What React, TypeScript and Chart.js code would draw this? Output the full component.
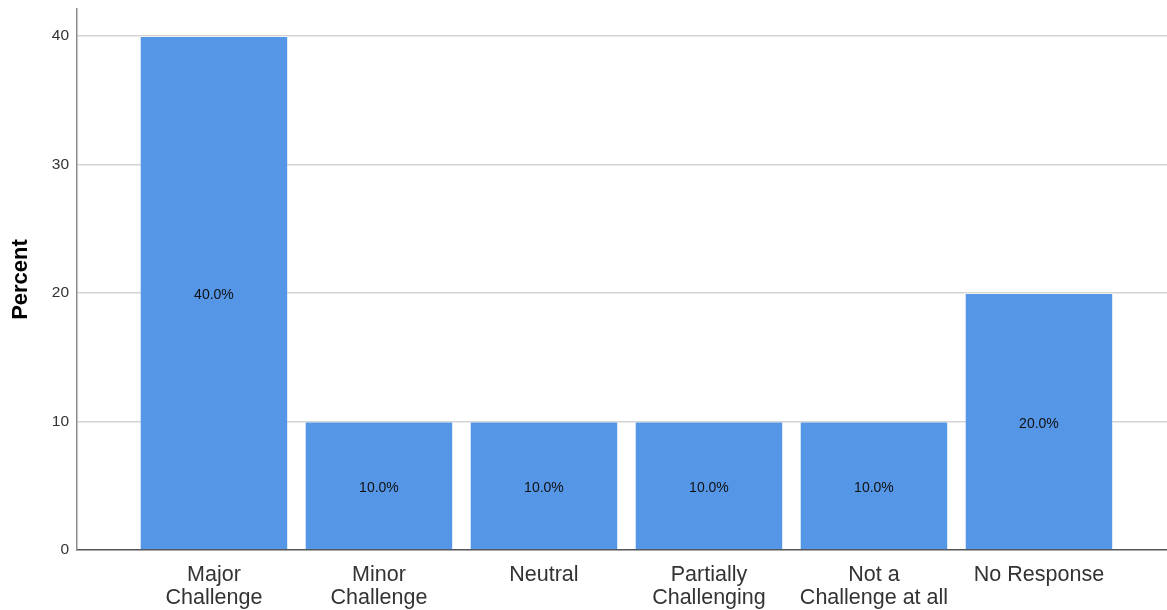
import React, { useEffect, useRef } from "react";
import { Chart, registerables } from "chart.js";

Chart.register(...registerables);

// Response categories (multi-line tick labels) and their percentages
const categories: string[][] = [
  ["Major", "Challenge"],
  ["Minor", "Challenge"],
  ["Neutral"],
  ["Partially", "Challenging"],
  ["Not a", "Challenge at all"],
  ["No Response"],
];
const percents: number[] = [40, 10, 10, 10, 10, 20];
const yTicks: number[] = [0, 10, 20, 30, 40];

const FONT = "Arial, 'Liberation Sans', sans-serif";
const BAR_COLOR = "#5596e6";

// Writes each bar's percentage in the middle of the bar
const barValueLabels = {
  id: "barValueLabels",
  afterDatasetsDraw(chart: any) {
    const { ctx } = chart;
    const meta = chart.getDatasetMeta(0);
    ctx.save();
    ctx.font = `14px ${FONT}`;
    ctx.fillStyle = "#111111";
    ctx.textAlign = "center";
    ctx.textBaseline = "middle";
    meta.data.forEach((bar: any, i: number) => {
      const { x, y, base } = bar.getProps(["x", "y", "base"], true);
      ctx.fillText(`${percents[i].toFixed(1)}%`, x, (y + base) / 2 + 3);
    });
    ctx.restore();
  },
};

export default function App() {
  const canvasRef = useRef<HTMLCanvasElement | null>(null);

  useEffect(() => {
    if (!canvasRef.current) return;
    const chart = new Chart(canvasRef.current, {
      type: "bar",
      data: {
        datasets: [
          {
            data: percents.map((v, i) => ({ x: i, y: v })),
            backgroundColor: BAR_COLOR,
            borderColor: "rgba(255,255,255,0.35)",
            borderWidth: 1,
            barPercentage: 0.9,
            categoryPercentage: 1,
          },
        ],
      },
      options: {
        responsive: false,
        animation: false,
        layout: { padding: { top: 9, right: 0, left: 0, bottom: 0 } },
        plugins: {
          legend: { display: false },
          tooltip: { enabled: false },
        },
        scales: {
          x: {
            type: "linear",
            offset: false,
            min: -0.83,
            max: 5.776,
            afterBuildTicks: (scale: any) => {
              scale.ticks = categories.map((_, i) => ({ value: i }));
            },
            afterFit: (scale: any) => {
              scale.height = 60;
              scale.paddingLeft = 0;
              scale.paddingRight = 0;
            },
            grid: { display: false, drawTicks: false, offset: false },
            border: { display: true, color: "#555555", width: 1.5 },
            ticks: {
              autoSkip: false,
              maxRotation: 0,
              padding: 13,
              color: "#333333",
              font: { family: FONT, size: 21.5, lineHeight: 1.08 },
              callback: (value: any) => {
                const idx = Math.round(Number(value));
                return categories[idx] ?? "";
              },
            },
          },
          y: {
            type: "linear",
            min: 0,
            max: 42.1,
            afterBuildTicks: (scale: any) => {
              scale.ticks = yTicks.map((v) => ({ value: v }));
            },
            afterFit: (scale: any) => {
              scale.width = 77;
              scale.paddingTop = 0;
              scale.paddingBottom = 0;
            },
            grid: {
              drawTicks: false,
              lineWidth: 1.5,
              color: (c: any) =>
                c.tick && c.tick.value === 0 ? "rgba(0,0,0,0)" : "#d4d4d4",
            },
            border: { display: true, color: "#8a8a8a", width: 1.5 },
            ticks: {
              padding: 8,
              color: "#333333",
              font: { family: FONT, size: 15.5 },
            },
            title: {
              display: true,
              text: "Percent",
              color: "#000000",
              font: { family: FONT, size: 22, weight: "bold" },
              padding: { top: 8, bottom: 0 },
            },
          },
        },
      },
      plugins: [barValueLabels],
    });
    return () => chart.destroy();
  }, []);

  return (
    <div
      style={{
        position: "fixed",
        left: 0,
        top: 0,
        width: 1167,
        height: 610,
        background: "#ffffff",
      }}
    >
      <canvas ref={canvasRef} width={1167} height={610} />
    </div>
  );
}
